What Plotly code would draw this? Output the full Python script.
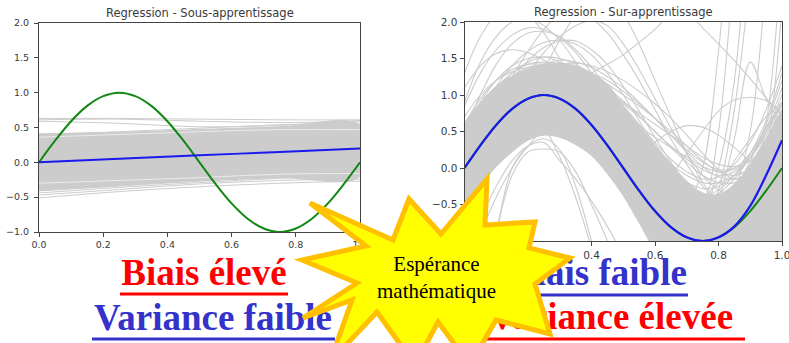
import plotly.graph_objects as go

# ---------------------------------------------------------------- data
# common sampling grid for the curves of the over-fitting panel
x_grid = [0.00, 0.05, 0.10, 0.15, 0.20, 0.25, 0.30, 0.35, 0.40, 0.45, 0.50,
          0.55, 0.60, 0.65, 0.70, 0.75, 0.80, 0.85, 0.90, 0.95, 1.00]

# true function (green)
true_fn = [0.00, 0.31, 0.59, 0.81, 0.95, 1.00, 0.95, 0.81, 0.59, 0.31, 0.00,
           -0.31, -0.59, -0.81, -0.95, -1.00, -0.95, -0.81, -0.59, -0.31, 0.00]

# --- under-fitting panel
x_lin = [0.0, 0.25, 0.5, 0.75, 1.0]
under_mean = [0.00, 0.05, 0.10, 0.15, 0.20]
under_band_hi = [0.41, 0.43, 0.47, 0.51, 0.53]
under_band_lo = [-0.41, -0.34, -0.27, -0.22, -0.20]
under_fits = [
    [0.63, 0.63, 0.62, 0.61, 0.61],
    [0.61, 0.62, 0.59, 0.57, 0.59],
    [0.59, 0.56, 0.51, 0.53, 0.60],
    [0.40, 0.44, 0.49, 0.54, 0.56],
    [-0.51, -0.42, -0.35, -0.30, -0.27],
    [-0.47, -0.39, -0.31, -0.26, -0.24],
    [-0.44, -0.36, -0.29, -0.23, -0.19],
]
under_gaps = [
    [0.36, 0.40, 0.44, 0.47, 0.47],
    [-0.30, -0.26, -0.22, -0.17, -0.16],
]

# --- over-fitting panel
over_mean = [0.00, 0.31, 0.59, 0.81, 0.95, 1.00, 0.95, 0.81, 0.59, 0.31, 0.00,
             -0.31, -0.59, -0.81, -0.95, -1.00, -0.95, -0.80, -0.52, -0.10, 0.38]
over_band_hi = [0.62, 0.90, 1.12, 1.26, 1.36, 1.42, 1.44, 1.40, 1.30, 1.15, 0.85,
                0.58, 0.32, 0.06, -0.18, -0.34, -0.36, -0.22, 0.04, 0.40, 0.76]
over_band_lo = [-0.60, -0.25, 0.02, 0.22, 0.38, 0.45, 0.42, 0.32, 0.17, -0.08, -0.38,
                -0.75, -1.10, -1.20, -1.20, -1.20, -1.20, -1.20, -1.20, -1.20, -1.20]
over_fits = [
    [0.85, 1.30, 1.62, 1.82, 1.92, 1.90, 1.78, 1.58, 1.30, 0.98, 0.62, 0.28, -0.02, -0.25, -0.38, -0.40, -0.30, -0.10, 0.20, 0.55, 0.90],
    [0.50, 1.00, 1.42, 1.70, 1.85, 1.87, 1.80, 1.62, 1.38, 1.08, 0.72, 0.35, 0.02, -0.25, -0.45, -0.50, -0.45, -0.25, 0.05, 0.40, 0.70],
    [0.30, 0.75, 1.12, 1.40, 1.60, 1.72, 1.75, 1.70, 1.55, 1.30, 1.00, 0.65, 0.30, -0.02, -0.28, -0.45, -0.50, -0.40, -0.15, 0.20, 0.60],
    [0.10, 0.50, 0.90, 1.22, 1.47, 1.65, 1.74, 1.74, 1.62, 1.42, 1.12, 0.78, 0.42, 0.08, -0.22, -0.42, -0.50, -0.42, -0.20, 0.15, 0.50],
    [1.10, 1.40, 1.57, 1.62, 1.58, 1.48, 1.32, 1.12, 0.88, 0.60, 0.30, 0.00, -0.30, -0.52, -0.65, -0.68, -0.55, -0.30, 0.10, 0.60, 1.20],
    [1.30, 1.80, 2.10, 2.20, 2.10, 1.85, 1.50, 1.10, 0.70, 0.35, 0.05, -0.20, -0.40, -0.50, -0.50, -0.40, -0.20, 0.10, 0.40, 0.70, 0.90],
    [0.90, 1.45, 1.80, 2.00, 2.05, 1.95, 1.75, 1.45, 1.10, 0.75, 0.40, 0.10, -0.15, -0.35, -0.45, -0.45, -0.35, -0.15, 0.15, 0.50, 0.85],
    [0.20, 0.55, 0.90, 1.25, 1.60, 1.90, 2.10, 2.15, 2.05, 1.85, 1.55, 1.20, 0.80, 0.40, 0.05, -0.25, -0.45, -0.50, -0.35, 0.00, 0.50],
    [0.50, 0.75, 0.90, 1.00, 1.08, 1.12, 1.15, 1.20, 1.30, 1.42, 1.55, 1.72, 1.90, 2.10, 2.12, 1.92, 1.70, 1.47, 1.22, 0.96, 0.72],
    [-0.50, -0.25, 0.10, 0.50, 0.95, 1.35, 1.75, 2.10, 2.30, 2.30, 2.10, 1.70, 1.20, 0.70, 0.20, -0.20, -0.45, -0.50, -0.30, 0.10, 0.60],
    [0.00, 0.30, 0.65, 1.00, 1.30, 1.58, 1.80, 1.95, 2.02, 1.95, 1.70, 1.35, 0.95, 0.55, 0.20, -0.10, -0.30, -0.35, -0.20, 0.20, 0.70],
    [0.00, 0.45, 0.85, 1.08, 1.15, 1.10, 0.95, 0.72, 0.45, 0.20, 0.02, 0.10, 0.35, 0.50, 0.58, 0.56, 0.45, 0.28, 0.10, 0.00, 0.10],
    [0.30, 0.70, 1.00, 1.20, 1.28, 1.25, 1.10, 0.88, 0.58, 0.25, -0.20, -0.35, -0.30, -0.10, 0.20, 0.50, 0.78, 0.93, 0.97, 0.92, 0.75],
    [0.10, 0.45, 0.75, 0.95, 1.05, 1.05, 0.95, 0.75, 0.50, 0.20, -0.10, -0.40, -0.60, -0.70, -0.65, -0.50, 0.50, 2.80, 5.00, 6.00, 6.50],
    [-0.10, 0.30, 0.65, 0.90, 1.02, 1.05, 0.98, 0.80, 0.55, 0.25, -0.05, -0.35, -0.60, -0.75, -0.70, -0.60, 0.00, 1.20, 3.50, 5.00, 6.00],
    [0.20, 0.50, 0.80, 1.00, 1.10, 1.08, 0.98, 0.78, 0.52, 0.22, -0.08, -0.35, -0.55, -0.60, -0.50, 0.00, 1.60, 4.00, 6.00, 7.00, 7.50],
    [0.05, 0.40, 0.70, 0.92, 1.05, 1.08, 1.00, 0.85, 0.62, 0.35, 0.05, -0.25, -0.50, -0.70, -0.82, -0.80, -0.30, 0.80, 2.60, 4.50, 6.00],
    [0.00, 0.35, 0.65, 0.88, 1.00, 1.05, 1.00, 0.85, 0.62, 0.35, 0.05, -0.25, -0.50, -0.68, -0.75, -0.70, -0.40, 0.40, 1.45, 0.95, 0.60],
    [0.10, 0.40, 0.70, 0.90, 1.02, 1.05, 0.98, 0.82, 0.60, 0.32, 0.02, -0.28, -0.55, -0.75, -0.88, -0.90, -0.80, -0.60, -0.30, 0.60, 3.00],
    [-0.05, 0.30, 0.62, 0.85, 0.98, 1.02, 0.96, 0.80, 0.58, 0.30, 0.00, -0.30, -0.58, -0.80, -0.92, -0.95, -0.85, -0.70, -0.60, 0.20, 2.20],
    [0.15, 0.45, 0.72, 0.92, 1.02, 1.04, 0.97, 0.80, 0.56, 0.28, -0.02, -0.32, -0.58, -0.76, -0.85, -0.82, -0.65, -0.30, 0.50, 2.50, 4.50],
    [-3.00, -2.00, -0.90, 0.00, 0.30, 0.40, 0.25, -0.25, -1.00, -1.80, -2.30, -2.50, -2.50, -2.30, -2.00, -1.80, -1.60, -1.50, -1.50, -1.60, -1.80],
    [-3.00, -2.20, -0.90, -0.10, 0.22, 0.26, 0.22, -0.05, -0.50, -1.00, -1.60, -2.00, -2.20, -2.20, -2.00, -1.80, -1.60, -1.50, -1.50, -1.60, -1.80],
    [-1.50, -0.90, -0.40, 0.00, 0.30, 0.50, 0.15, -0.40, -1.10, -1.90, -2.40, -2.60, -2.60, -2.40, -2.10, -1.90, -1.70, -1.60, -1.60, -1.70, -1.90],
    [-1.20, -0.70, -0.25, 0.10, 0.30, 0.35, 0.10, -0.15, -0.45, -0.80, -1.20, -1.60, -1.90, -2.00, -1.90, -1.80, -1.60, -1.50, -1.50, -1.60, -1.80],
    [0.40, 0.80, 1.10, 1.30, 1.42, 1.45, 1.42, 1.35, 1.25, 1.10, 0.92, 0.72, 0.50, 0.28, 0.08, -0.10, -0.20, -0.20, -0.05, 0.25, 0.70],
    [0.20, 0.60, 0.95, 1.20, 1.35, 1.40, 1.38, 1.30, 1.20, 1.05, 0.88, 0.70, 0.50, 0.30, 0.12, -0.02, -0.10, -0.05, 0.15, 0.50, 1.00],
    [0.60, 0.95, 1.20, 1.35, 1.42, 1.42, 1.35, 1.22, 1.05, 0.85, 0.65, 0.45, 0.25, 0.05, -0.10, -0.20, -0.20, -0.10, 0.15, 0.50, 0.90],
    [0.00, 0.40, 0.80, 1.10, 1.30, 1.42, 1.48, 1.45, 1.38, 1.25, 1.10, 0.90, 0.68, 0.45, 0.25, 0.08, -0.02, 0.00, 0.20, 0.55, 1.10],
    [0.30, 0.70, 1.05, 1.30, 1.45, 1.52, 1.50, 1.42, 1.28, 1.08, 0.85, 0.60, 0.35, 0.12, -0.05, -0.15, -0.12, 0.05, 0.35, 0.80, 1.40],
    [0.50, 0.90, 1.20, 1.40, 1.50, 1.52, 1.45, 1.30, 1.10, 0.88, 0.62, 0.38, 0.15, -0.05, -0.20, -0.28, -0.25, -0.10, 0.20, 0.65, 1.30],
    [0.20, 0.60, 0.95, 1.20, 1.35, 1.42, 1.42, 1.38, 1.30, 1.20, 1.05, 0.88, 0.68, 0.45, 0.22, 0.02, -0.12, -0.15, -0.05, 0.20, 0.60],
    [0.40, 0.75, 1.05, 1.25, 1.38, 1.42, 1.40, 1.32, 1.20, 1.05, 0.90, 0.75, 0.60, 0.45, 0.30, 0.15, 0.05, 0.02, 0.10, 0.35, 0.80],
    [0.10, 0.50, 0.85, 1.10, 1.28, 1.38, 1.40, 1.36, 1.28, 1.15, 1.00, 0.85, 0.68, 0.50, 0.30, 0.10, -0.05, -0.10, 0.00, 0.30, 0.80],
    [0.70, 1.00, 1.20, 1.32, 1.38, 1.38, 1.32, 1.22, 1.08, 0.92, 0.75, 0.58, 0.42, 0.28, 0.15, 0.02, -0.05, -0.02, 0.15, 0.45, 0.90],
    [-0.10, 0.30, 0.70, 1.00, 1.22, 1.35, 1.42, 1.44, 1.40, 1.32, 1.20, 1.05, 0.88, 0.68, 0.45, 0.20, -0.02, -0.15, -0.10, 0.20, 0.70],
]

y_ticks = [-1.0, -0.5, 0.0, 0.5, 1.0, 1.5, 2.0]
x_ticks = [0.0, 0.2, 0.4, 0.6, 0.8, 1.0]

# ---------------------------------------------------------------- styling
GRAY = "#cccccc"
GREEN = "#118811"
BLUE = "#1a1aee"
RED = "#ff0000"
TEXT_BLUE = "#3333cc"
W, H = 789, 343


def px_x(p):
    return p / W


def px_y(p):
    return 1 - p / H


fig = go.Figure()


def add_lines(xs, rows, xa, ya, color=GRAY, width=1.0, opacity=1.0):
    for row in rows:
        fig.add_trace(go.Scatter(x=xs, y=row, mode="lines", xaxis=xa, yaxis=ya,
                                 line=dict(color=color, width=width, shape="spline"),
                                 opacity=opacity, hoverinfo="skip"))


def add_band(xs, hi, lo, xa, ya):
    fig.add_trace(go.Scatter(x=xs + xs[::-1], y=hi + lo[::-1], mode="lines",
                             xaxis=xa, yaxis=ya, fill="toself", fillcolor=GRAY,
                             line=dict(color=GRAY, width=1, shape="spline"),
                             hoverinfo="skip"))


# left panel: straight-ish fits
add_band(x_lin, under_band_hi, under_band_lo, "x", "y")
add_lines(x_lin, under_fits, "x", "y")
add_lines(x_lin, under_gaps, "x", "y", color="white", width=1.0, opacity=0.6)
add_lines(x_grid, [true_fn], "x", "y", color=GREEN, width=2)
add_lines(x_lin, [under_mean], "x", "y", color=BLUE, width=2)

# right panel: high-degree fits
add_band(x_grid, over_band_hi, over_band_lo, "x2", "y2")
add_lines(x_grid, over_fits, "x2", "y2", width=1.1)
add_lines(x_grid, [true_fn], "x2", "y2", color=GREEN, width=2)
add_lines(x_grid, [over_mean], "x2", "y2", color=BLUE, width=2.2)

# ---------------------------------------------------------------- captions
captions = [
    ("Biais élevé", 204, 276, RED),
    ("Variance faible", 213, 321, TEXT_BLUE),
    ("Biais faible", 599, 276, TEXT_BLUE),
    ("Variance élevée", 611, 320, RED),
]
for txt, cx, cy, col in captions:
    fig.add_trace(go.Scatter(x=[cx], y=[cy], mode="text", text=[txt],
                             xaxis="x3", yaxis="y3", textposition="middle center",
                             textfont=dict(family="Liberation Serif", size=37,
                                           color=col, weight="bold"),
                             hoverinfo="skip"))

underlines = [
    (120, 288, 294, RED),
    (92, 335, 339, TEXT_BLUE),
    (511, 688, 295, TEXT_BLUE),
    (478, 745, 339, RED),
]
shapes = []
for x0, x1, yy, col in underlines:
    shapes.append(dict(type="line", xref="x3", yref="y3", x0=x0, x1=x1, y0=yy, y1=yy,
                       line=dict(color=col, width=3), layer="below"))

# starburst callout
star = [(310, 203), (393, 240), (409, 199), (441, 234), (487, 179), (485, 225),
        (535, 222), (529, 248), (570, 258), (535, 284), (550, 334), (496, 320),
        (470, 365), (438, 322), (415, 365), (377, 312), (330, 362), (352, 300),
        (303, 318), (357, 283), (302, 260), (366, 246)]
path = "M" + " L".join(f"{a},{b}" for a, b in star) + " Z"
shapes.append(dict(type="path", path=path, xref="x3", yref="y3",
                   fillcolor="#ffff00", line=dict(color="#ffc000", width=5),
                   layer="above"))

annotations = [
    dict(text="Espérance<br>mathématique", x=436, y=277, xref="x3", yref="y3",
         showarrow=False, xanchor="center", yanchor="middle",
         font=dict(family="Liberation Serif", size=21, color="black")),
    dict(text="Regression - Sous-apprentissage", x=200, y=13, xref="x3", yref="y3",
         showarrow=False, xanchor="center", yanchor="middle",
         font=dict(family="DejaVu Sans", size=11.5, color="#3a3a3a")),
    dict(text="Regression - Sur-apprentissage", x=623, y=12, xref="x3", yref="y3",
         showarrow=False, xanchor="center", yanchor="middle",
         font=dict(family="DejaVu Sans", size=11.5, color="#3a3a3a")),
]


def axis_style(dom, rng, ticks, fsize, anchor, standoff=0):
    return dict(domain=dom, range=rng, tickvals=ticks, tickformat=".1f",
                ticks="outside", ticklen=4, tickwidth=1, tickcolor="#444",
                showline=True, linecolor="#444", linewidth=1, mirror=True,
                showgrid=False, zeroline=False, anchor=anchor, fixedrange=True,
                automargin=False, ticklabeloverflow="allow",
                ticklabelstandoff=standoff,
                tickfont=dict(family="DejaVu Sans", size=fsize, color="#3a3a3a"))


fig.update_layout(
    width=W, height=H,
    margin=dict(l=0, r=0, t=0, b=0, pad=0, autoexpand=False),
    paper_bgcolor="white", plot_bgcolor="rgba(0,0,0,0)",
    showlegend=False, hovermode=False,
    xaxis=axis_style([px_x(39), px_x(360)], [0, 1], x_ticks, 9.5, "y"),
    yaxis=axis_style([px_y(232), px_y(23)], [-1, 2], y_ticks, 9.5, "x", 3),
    xaxis2=axis_style([px_x(464.5), px_x(782)], [0, 1], x_ticks, 10.5, "y2"),
    yaxis2=axis_style([px_y(241), px_y(22)], [-1, 2], y_ticks, 10.5, "x2"),
    xaxis3=dict(domain=[0, 1], range=[0, W], visible=False, anchor="y3",
                fixedrange=True, automargin=False),
    yaxis3=dict(domain=[0, 1], range=[H, 0], visible=False, anchor="x3",
                fixedrange=True, automargin=False),
    shapes=shapes, annotations=annotations,
)

fig.write_html("out.html")
